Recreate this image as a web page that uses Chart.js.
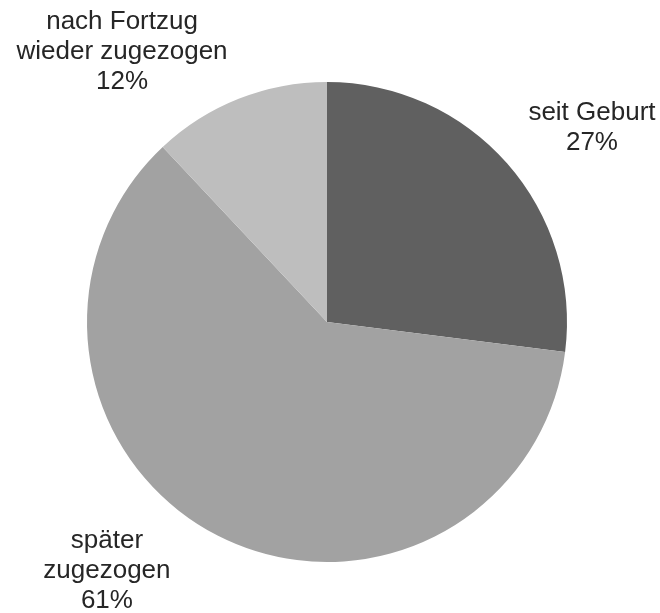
<!DOCTYPE html>
<html>
<head>
<meta charset="utf-8">
<script src="https://cdn.jsdelivr.net/npm/chart.js@4"></script>
<style>
  html, body { margin: 0; padding: 0; background: #fff; }
  #wrap { width: 660px; height: 613px; }
</style>
</head>
<body>
<div id="wrap"><canvas id="pie"></canvas></div>
<script>
// Data
const labels = ['seit Geburt', 'später zugezogen', 'nach Fortzug wieder zugezogen'];
const values = [27, 61, 12];
const colors = ['#606060', '#a2a2a2', '#bebebe'];
// label lines as drawn in the picture
const labelLines = [
    ['seit Geburt', '27%'],
    ['später', 'zugezogen', '61%'],
    ['nach Fortzug', 'wieder zugezogen', '12%']
];
// label placement relative to pie centre, in units of radius
const labelPos = [
    [1.104, -0.808],
    [-0.917, 1.0375],
    [-0.854, -1.125]
];

// Draw the outside labels
const outsideLabels = {
    id: 'outsideLabels',
    afterDatasetsDraw(chart) {
        const ctx = chart.ctx;
        const meta = chart.getDatasetMeta(0);
        ctx.save();
        ctx.font = '26px "Liberation Sans", Arial, sans-serif';
        ctx.fillStyle = '#262626';
        ctx.textAlign = 'center';
        ctx.textBaseline = 'middle';
        meta.data.forEach((arc, i) => {
            const r = arc.outerRadius;
            const cx = arc.x + labelPos[i][0] * r;
            const cy = arc.y + labelPos[i][1] * r;
            const lines = labelLines[i];
            const lh = 30;
            lines.forEach((t, j) => {
                ctx.fillText(t, cx, cy + (j - (lines.length - 1) / 2) * lh);
            });
        });
        ctx.restore();
    }
};

new Chart(document.getElementById('pie'), {
    type: 'pie',
    data: {
        labels: labels,
        datasets: [{
            data: values,
            backgroundColor: colors,
            borderWidth: 0
        }]
    },
    options: {
        responsive: true,
        maintainAspectRatio: false,
        animation: false,
        layout: { padding: { left: 87, right: 93, top: 82, bottom: 51 } },
        plugins: {
            legend: { display: false },
            tooltip: { enabled: false }
        }
    },
    plugins: [outsideLabels]
});
</script>
</body>
</html>
